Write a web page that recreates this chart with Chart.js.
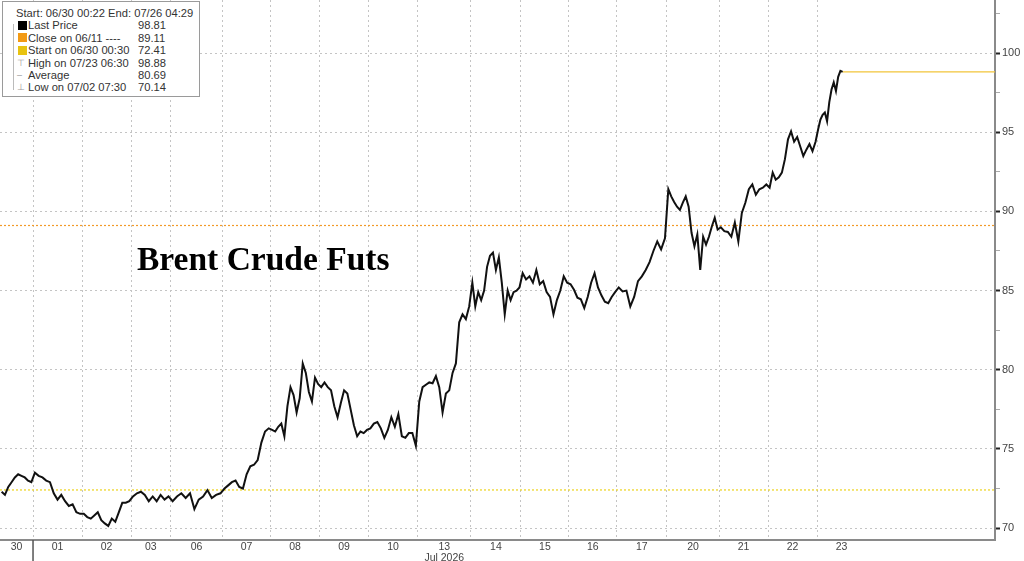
<!DOCTYPE html>
<html>
<head>
<meta charset="utf-8">
<script src="https://cdn.jsdelivr.net/npm/chart.js@4.4.0/dist/chart.umd.min.js"></script>
<style>
  body{margin:0;background:#fff;}
  #wrap{position:relative;width:1024px;height:561px;overflow:hidden;}
  #title{position:absolute;left:137px;top:242px;font:bold 33.5px 'Liberation Serif',serif;line-height:1;color:#000;white-space:nowrap;}
  #legend{position:absolute;left:2px;top:1px;width:198px;height:96px;border:1px solid #9a9a9a;background:#fff;
    font:11.2px 'Liberation Sans',sans-serif;color:#333;padding-top:5px;box-sizing:border-box;}
  .row{position:relative;height:12.4px;line-height:12.4px;white-space:nowrap;}
  .row .l{position:absolute;left:25px;}
  .row .v{position:absolute;left:135px;}
  .sw{position:absolute;left:15px;top:1.5px;width:9px;height:9px;}
  .ic{position:absolute;left:14px;top:0;color:#999;font-size:9px;}
  #tree{position:absolute;left:10px;top:22px;width:4px;height:66px;border-left:1px solid #bbb;}
</style>
</head>
<body>
<div id="wrap">
  <canvas id="c" width="1024" height="561"></canvas>
  <div id="title">Brent Crude Futs</div>
  <div id="legend">
    <div id="tree"></div>
    <div class="row"><span style="position:absolute;left:13px">Start: 06/30 00:22 End: 07/26 04:29</span></div>
    <div class="row"><span class="sw" style="background:#000"></span><span class="l">Last Price</span><span class="v">98.81</span></div>
    <div class="row"><span class="sw" style="background:#f39a14"></span><span class="l">Close on 06/11 ----</span><span class="v">89.11</span></div>
    <div class="row"><span class="sw" style="background:#e8c310"></span><span class="l">Start on 06/30 00:30</span><span class="v">72.41</span></div>
    <div class="row"><span class="ic">⊤</span><span class="l">High on 07/23 06:30</span><span class="v">98.88</span></div>
    <div class="row"><span class="ic">–</span><span class="l">Average</span><span class="v">80.69</span></div>
    <div class="row"><span class="ic">⊥</span><span class="l">Low on 07/02 07:30</span><span class="v">70.14</span></div>
  </div>
</div>
<script>
// trading sessions, x in trading hours since 06/30 00:22
const sessionLabels = ['30','01','02','03','06','07','08','09','10','13','14','15','16','17','20','21','22','23'];
const sessionStart = [0,15.5,38.5,61.5,80,104.5,127,150,173,196,221,244.5,267,289.5,313,337.5,360.5,383.5];
const sessionEnd = [15.5,38.5,61.5,80,104.5,127,150,173,196,221,244.5,267,289.5,313,337.5,360.5,383.5,406.5];
const lastTradeHour = 396;
const axisEndHour = 467;
const monthBreakHour = 15.5;
const monthName = 'Jul 2026';
const monthSession = '13';

// Brent prices read per session
const dayPrices = [
  [72.3, 72.1, 72.6, 72.9, 73.2, 73.4, 73.3, 73.2, 73.0, 72.9],
  [73.5, 73.3, 73.2, 73.0, 72.9, 72.2, 71.8, 72.1, 71.7, 71.4, 71.5, 71.0, 70.9],
  [70.9, 70.7, 70.6, 70.8, 71.0, 70.5, 70.3, 70.14, 70.6, 70.4, 71.0, 71.6, 71.6, 71.7],
  [72.0, 72.2, 72.3, 72.1, 71.7, 72.0, 71.7, 72.1, 71.8, 72.0],
  [71.7, 72.0, 72.2, 71.9, 72.2, 71.2, 71.8, 72.0, 72.4, 71.9, 72.1, 72.2],
  [72.5, 72.7, 72.9, 73.0, 72.6, 72.5, 73.4, 73.9, 74.0, 74.3, 75.4, 76.1, 76.3],
  [76.2, 76.1, 76.4, 76.6, 75.8, 77.7, 78.9, 78.4, 77.3, 78.2, 80.4, 79.8, 78.6, 78.0, 79.5, 79.1],
  [78.9, 79.2, 78.9, 78.7, 77.7, 77.0, 77.9, 78.7, 78.5, 77.5, 76.5, 75.8, 76.1, 76.0, 76.2],
  [76.3, 76.6, 76.7, 76.3, 75.7, 76.2, 77.0, 76.4, 77.2, 75.8, 75.7, 76.0, 76.0, 75.2],
  [78.0, 78.9, 79.05, 79.2, 79.15, 79.6, 78.9, 77.3, 78.5, 78.7, 79.8, 80.4, 83.0, 83.5, 83.2, 84.0],
  [85.5, 84.0, 84.9, 84.4, 85.0, 86.5, 87.2, 87.4, 86.3, 87.1, 85.5, 83.5, 85.0, 84.4, 84.9, 85.0, 85.2],
  [86.1, 85.7, 85.9, 85.5, 86.3, 85.4, 85.6, 84.9, 84.6, 83.5, 84.4, 85.0, 85.9, 85.5],
  [85.4, 85.05, 84.55, 84.45, 83.9, 84.6, 85.5, 86.1, 85.2, 84.7, 84.3, 84.2, 84.6, 84.9],
  [85.2, 84.95, 85.0, 84.0, 84.6, 85.6, 85.9, 86.3, 86.8, 87.5, 88.1, 87.6, 88.3],
  [91.4, 90.95, 90.6, 90.3, 90.1, 90.55, 90.95, 90.3, 88.65, 87.8, 88.55, 86.3, 88.4, 87.9, 88.4, 89.05, 89.6, 88.85],
  [89.0, 88.75, 88.7, 88.4, 89.3, 88.1, 89.9, 90.55, 91.4, 91.7, 91.05, 91.4, 91.5, 91.7],
  [91.5, 92.45, 92.0, 92.15, 92.45, 93.3, 94.55, 95.05, 94.4, 94.7, 94.1, 93.5, 93.9, 94.25, 93.8, 94.4],
  [95.2, 95.8, 96.1, 96.25, 95.7, 96.9, 97.7, 98.15, 97.6, 98.5, 98.88, 98.81]
];

const lastPrice = 98.81, closeJun11 = 89.11, startPrice = 72.41;
const yMin = 69.25, yMax = 103.35;
const yMajor = [70, 75, 80, 85, 90, 95, 100];
const yMinor = [72.5, 77.5, 82.5, 87.5, 92.5, 97.5, 102.5];

// build points from the session arrays
const pricePts = [];
dayPrices.forEach((arr, d) => {
  const s = sessionStart[d], e = d === dayPrices.length - 1 ? lastTradeHour : sessionEnd[d];
  arr.forEach((p, i) => pricePts.push({x: s + (i + 0.5) * (e - s) / arr.length, y: p}));
});
const lastX = pricePts[pricePts.length - 1].x;

const bounds = sessionStart.slice(1);
const centers = sessionStart.map((s, i) => (s + sessionEnd[i]) / 2);
const isBound = v => bounds.some(b => Math.abs(b - v) < 1e-6);
const centerIdx = v => centers.findIndex(c => Math.abs(c - v) < 1e-6);
const isMajorY = v => yMajor.some(m => Math.abs(m - v) < 1e-6);

const monthTick = {
  id: 'monthTick',
  afterDraw(chart) {
    const {ctx, chartArea, scales} = chart;
    const x = scales.x.getPixelForValue(monthBreakHour);
    ctx.save();
    ctx.strokeStyle = '#555'; ctx.lineWidth = 1.5;
    ctx.beginPath(); ctx.moveTo(x, chartArea.bottom); ctx.lineTo(x, chart.height); ctx.stroke();
    ctx.restore();
  }
};

new Chart(document.getElementById('c'), {
  type: 'line',
  data: {
    datasets: [
      {data: pricePts, borderColor: '#111', borderWidth: 2, pointRadius: 0, tension: 0},
      {data: [{x: lastX, y: lastPrice}, {x: axisEndHour, y: lastPrice}], borderColor: '#f2c53a', borderWidth: 1.3, pointRadius: 0},
      {data: [{x: 0, y: closeJun11}, {x: axisEndHour, y: closeJun11}], borderColor: '#f29a28', borderWidth: 1.2, borderDash: [2, 2], pointRadius: 0},
      {data: [{x: 0, y: startPrice}, {x: axisEndHour, y: startPrice}], borderColor: '#ecd21a', borderWidth: 1.2, borderDash: [2, 2], pointRadius: 0}
    ]
  },
  options: {
    responsive: false,
    animation: false,
    layout: {padding: 0},
    plugins: {legend: {display: false}, tooltip: {enabled: false}},
    scales: {
      x: {
        type: 'linear', min: 0, max: axisEndHour,
        afterBuildTicks: ax => { ax.ticks = [...bounds, ...centers].sort((a, b) => a - b).map(v => ({value: v})); },
        afterFit: ax => { ax.height = 21; ax.paddingLeft = 0; ax.paddingRight = 0; },
        grid: {color: c => isBound(c.tick.value) ? '#c4c4c4' : 'rgba(0,0,0,0)', lineWidth: 1, drawTicks: false},
        border: {display: true, color: '#8a8a8a', width: 2, dash: [2, 3]},
        ticks: {
          autoSkip: false, maxRotation: 0, minRotation: 0, padding: 2,
          color: '#444', font: {size: 10.5, family: 'Liberation Sans', lineHeight: 1},
          callback: v => {
            const i = centerIdx(v);
            if (i < 0) return '';
            return sessionLabels[i] === monthSession ? [sessionLabels[i], monthName] : sessionLabels[i];
          }
        }
      },
      y: {
        position: 'right', min: yMin, max: yMax,
        afterBuildTicks: ax => { ax.ticks = [...yMajor, ...yMinor].sort((a, b) => a - b).map(v => ({value: v})); },
        afterFit: ax => { ax.width = 29; ax.paddingTop = 0; ax.paddingBottom = 0; },
        grid: {
          color: c => isMajorY(c.tick.value) ? '#c4c4c4' : 'rgba(0,0,0,0)', lineWidth: 1,
          drawTicks: true, tickLength: 5,
          tickColor: c => isMajorY(c.tick.value) ? '#222' : '#aaa',
          tickWidth: c => isMajorY(c.tick.value) ? 2 : 1
        },
        border: {display: true, color: '#8a8a8a', width: 2, dash: [2, 3]},
        ticks: {
          padding: 2, color: '#444', font: {size: 11, family: 'Liberation Sans'},
          callback: v => isMajorY(v) ? String(v) : ''
        }
      }
    }
  },
  plugins: [monthTick]
});
</script>
</body>
</html>
